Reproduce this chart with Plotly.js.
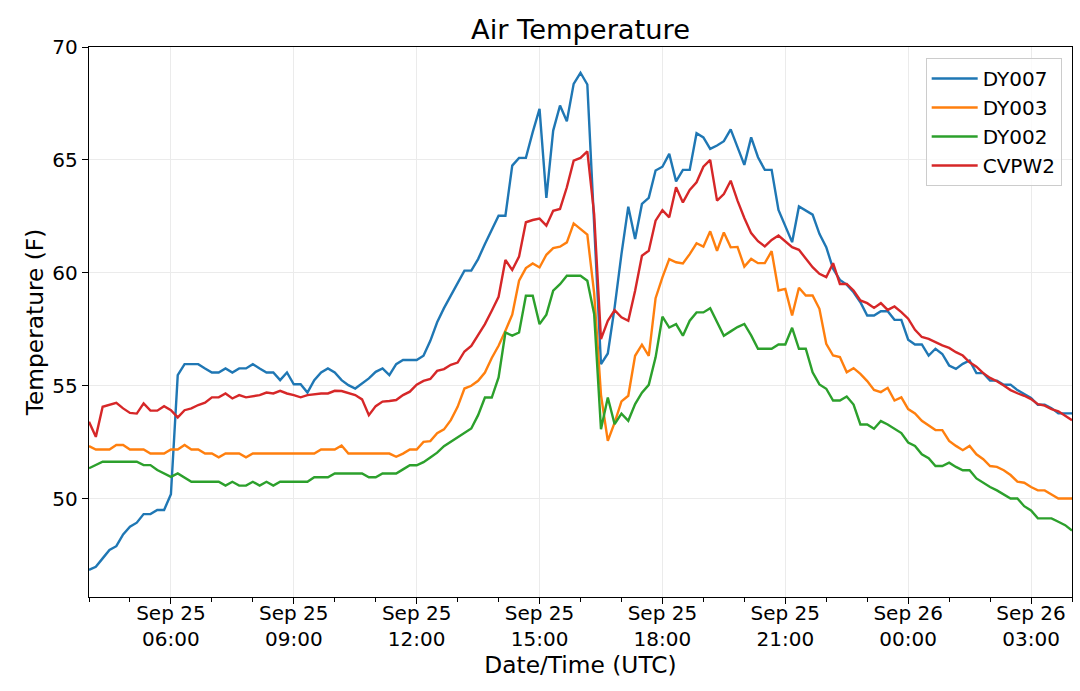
<!DOCTYPE html>
<html>
<head>
<meta charset="utf-8">
<script src="https://cdn.plot.ly/plotly-3.0.1.min.js"></script>
<style>
  html, body { margin: 0; padding: 0; background: #fff; }
  #plot { width: 1080px; height: 691px; }
</style>
</head>
<body>
<div id="plot"></div>
<script>
// readings every 10 minutes, 04:00 Sep 25 -> 04:00 Sep 26 (UTC)
var start = "2019-09-25T04:00:00Z";
var stepMinutes = 10;

var stations = ["DY007", "DY003", "DY002", "CVPW2"];
var colors = ["#1f77b4", "#ff7f0e", "#2ca02c", "#d62728"];

// one row per hour
var dy007 = [
  46.85, 46.99, 47.36, 47.73, 47.90, 48.42,
  48.76, 48.94, 49.32, 49.32, 49.50, 49.50,
  50.20, 55.47, 55.96, 55.96, 55.96, 55.77,
  55.59, 55.59, 55.77, 55.59, 55.77, 55.77,
  55.96, 55.77, 55.59, 55.59, 55.25, 55.59,
  55.07, 55.07, 54.70, 55.25, 55.59, 55.77,
  55.59, 55.25, 55.03, 54.88, 55.10, 55.33,
  55.62, 55.77, 55.47, 55.96, 56.14, 56.14,
  56.14, 56.33, 56.99, 57.81, 58.44, 58.99,
  59.58, 60.10, 60.10, 60.61, 61.28, 61.94,
  62.53, 62.53, 64.75, 65.09, 65.09, 66.23,
  67.26, 63.32, 66.30, 67.41, 66.71, 68.37,
  68.86, 68.34, 62.00, 55.96, 56.43, 58.47,
  60.83, 62.93, 61.50, 63.05, 63.32, 64.53,
  64.70, 65.27, 64.05, 64.56, 64.56, 66.18,
  66.00, 65.49, 65.64, 65.83, 66.35, 65.60,
  64.78, 66.00, 65.12, 64.56, 64.56, 62.79,
  62.05, 61.36, 62.94, 62.76, 62.58, 61.73,
  61.14, 60.18, 59.69, 59.48, 59.14, 58.70,
  58.11, 58.11, 58.30, 58.30, 57.92, 57.92,
  57.04, 56.83, 56.83, 56.34, 56.64, 56.41,
  55.90, 55.75, 55.97, 56.12, 55.56, 55.56,
  55.23, 55.23, 55.05, 55.05, 54.81, 54.64,
  54.46, 54.16, 54.16, 54.01, 53.78, 53.78,
  53.78
];

var dy003 = [
  52.33, 52.18, 52.18, 52.18, 52.38, 52.38,
  52.18, 52.18, 52.18, 52.00, 52.00, 52.00,
  52.18, 52.18, 52.38, 52.18, 52.18, 52.00,
  52.00, 51.83, 52.00, 52.00, 52.00, 51.83,
  52.00, 52.00, 52.00, 52.00, 52.00, 52.00,
  52.00, 52.00, 52.00, 52.00, 52.18, 52.18,
  52.18, 52.36, 52.00, 52.00, 52.00, 52.00,
  52.00, 52.00, 52.00, 51.86, 52.00, 52.18,
  52.18, 52.52, 52.55, 52.90, 53.07, 53.48,
  54.07, 54.88, 55.00, 55.22, 55.59, 56.23,
  56.77, 57.44, 58.15, 59.65, 60.21, 60.42,
  60.24, 60.80, 61.10, 61.16, 61.35, 62.19,
  61.94, 61.69, 59.10, 54.60, 52.56, 53.37,
  54.31, 54.56, 56.33, 56.82, 56.33, 58.88,
  59.80, 60.61, 60.47, 60.42, 60.83, 61.31,
  61.16, 61.84, 60.98, 61.79, 61.13, 61.15,
  60.28, 60.62, 60.43, 60.43, 60.96, 59.22,
  59.29, 58.11, 59.34, 59.00, 59.00, 58.41,
  56.86, 56.34, 56.27, 55.60, 55.78, 55.53,
  55.21, 54.82, 54.72, 54.91, 54.35, 54.49,
  53.97, 53.78, 53.45, 53.23, 53.04, 53.04,
  52.56, 52.34, 52.15, 52.34, 51.97, 51.75,
  51.45, 51.41, 51.26, 51.05, 50.76, 50.71,
  50.52, 50.37, 50.37, 50.19, 50.01, 50.01,
  50.01
];

var dy002 = [
  51.35, 51.49, 51.64, 51.64, 51.64, 51.64,
  51.64, 51.64, 51.49, 51.49, 51.27, 51.12,
  50.97, 51.12, 50.95, 50.75, 50.75, 50.75,
  50.75, 50.75, 50.58, 50.75, 50.58, 50.58,
  50.75, 50.58, 50.75, 50.58, 50.75, 50.75,
  50.75, 50.75, 50.75, 50.95, 50.95, 50.95,
  51.12, 51.12, 51.12, 51.12, 51.12, 50.95,
  50.95, 51.12, 51.12, 51.12, 51.30, 51.48,
  51.48, 51.62, 51.83, 52.04, 52.33, 52.52,
  52.72, 52.90, 53.11, 53.70, 54.48, 54.48,
  55.37, 57.36, 57.22, 57.36, 58.99, 58.99,
  57.73, 58.15, 59.21, 59.50, 59.87, 59.87,
  59.87, 59.65, 58.18, 53.08, 54.48, 53.30,
  53.77, 53.45, 54.19, 54.70, 55.04, 56.26,
  58.06, 57.58, 57.73, 57.22, 57.88, 58.25,
  58.25, 58.44, 57.81, 57.22, 57.41, 57.60,
  57.74, 57.23, 56.64, 56.64, 56.64, 56.83,
  56.83, 57.57, 56.64, 56.64, 55.60, 55.06,
  54.87, 54.35, 54.35, 54.53, 54.17, 53.29,
  53.29, 53.10, 53.44, 53.29, 53.10, 52.91,
  52.49, 52.34, 51.97, 51.79, 51.45, 51.45,
  51.60, 51.41, 51.26, 51.26, 50.90, 50.71,
  50.52, 50.37, 50.19, 50.01, 50.01, 49.67,
  49.48, 49.13, 49.13, 49.13, 48.98, 48.83,
  48.59
];

var cvpw2 = [
  53.41, 52.74, 54.07, 54.15, 54.25, 54.00,
  53.80, 53.77, 54.22, 53.90, 53.90, 54.10,
  53.92, 53.60, 53.92, 54.00, 54.15, 54.25,
  54.49, 54.49, 54.66, 54.44, 54.59, 54.49,
  54.55, 54.59, 54.70, 54.66, 54.78, 54.66,
  54.59, 54.49, 54.59, 54.63, 54.66, 54.66,
  54.78, 54.77, 54.69, 54.59, 54.40, 53.70,
  54.10, 54.30, 54.33, 54.37, 54.59, 54.74,
  55.05, 55.22, 55.30, 55.66, 55.74, 55.93,
  56.03, 56.52, 56.77, 57.22, 57.73, 58.32,
  58.94, 60.57, 60.13, 60.72, 62.24, 62.34,
  62.40, 62.09, 62.75, 62.83, 63.79, 64.97,
  65.09, 65.38, 62.60, 57.07, 57.88, 58.35,
  58.03, 57.88, 59.21, 60.76, 60.98, 62.31,
  62.78, 62.46, 63.79, 63.12, 63.67, 64.01,
  64.70, 65.00, 63.20, 63.49, 64.08, 63.20,
  62.43, 61.76, 61.40, 61.17, 61.46, 61.65,
  61.40, 61.14, 61.02, 60.66, 60.25, 59.96,
  59.81, 60.43, 59.51, 59.51, 59.22, 58.78,
  58.66, 58.45, 58.66, 58.36, 58.51, 58.26,
  57.97, 57.48, 57.16, 57.08, 56.93, 56.79,
  56.68, 56.49, 56.34, 56.04, 55.85, 55.56,
  55.35, 55.20, 55.01, 54.81, 54.67, 54.56,
  54.41, 54.19, 54.12, 53.97, 53.87, 53.67,
  53.48
];

var yTicks = [50, 55, 60, 65, 70];

var series = [dy007, dy003, dy002, cvpw2];

// timestamps for the sample grid
var t0 = new Date(start).getTime();
var times = dy007.map(function (v, i) {
  return new Date(t0 + i * stepMinutes * 60000).toISOString().slice(0, 16).replace("T", " ");
});

var traces = series.map(function (vals, k) {
  return {
    x: times,
    y: vals,
    type: "scatter",
    mode: "lines",
    name: stations[k],
    line: { color: colors[k], width: 2.4 }
  };
});

var font = "DejaVu Sans, Verdana, sans-serif";

var layout = {
  width: 1080,
  height: 691,
  margin: { l: 89, r: 8, t: 47, b: 94 },
  paper_bgcolor: "#fff",
  plot_bgcolor: "#fff",
  font: { family: font, size: 20, color: "#000" },
  title: {
    text: "Air Temperature",
    font: { family: font, size: 27.3, color: "#000" },
    x: 0.5375, xanchor: "center",
    y: 0.957, yanchor: "middle"
  },
  xaxis: {
    type: "date",
    range: [times[0], times[times.length - 1]],
    tickmode: "linear",
    tick0: "2019-09-25 06:00",
    dtick: 3 * 3600000,
    tickformat: "%b %d<br>%H:%M",
    ticks: "outside",
    ticklen: 6,
    tickwidth: 1,
    tickcolor: "#000",
    ticklabelstandoff: -8,
    showgrid: true,
    gridcolor: "#ebebeb",
    gridwidth: 1,
    showline: true,
    mirror: true,
    linecolor: "#000",
    linewidth: 1.2,
    zeroline: false,
    minor: {
      tickmode: "linear",
      tick0: "2019-09-25 04:00",
      dtick: 3600000,
      ticks: "outside",
      ticklen: 3.5,
      tickcolor: "#000",
      showgrid: false
    },
    title: {
      text: "Date/Time (UTC)",
      font: { family: font, size: 23.3 },
      standoff: 6
    }
  },
  yaxis: {
    range: [45.65, 70],
    tickmode: "array",
    tickvals: yTicks,
    ticks: "outside",
    ticklen: 6,
    tickwidth: 1,
    tickcolor: "#000",
    showgrid: true,
    gridcolor: "#ebebeb",
    gridwidth: 1,
    showline: true,
    mirror: true,
    linecolor: "#000",
    linewidth: 1.2,
    zeroline: false,
    title: {
      text: "Temperature (F)",
      font: { family: font, size: 23.3 },
      standoff: 2
    }
  },
  showlegend: true,
  legend: {
    x: 0.9895, xanchor: "right",
    y: 0.98, yanchor: "top",
    bgcolor: "rgba(255,255,255,0.8)",
    bordercolor: "#cccccc",
    borderwidth: 1,
    itemwidth: 46,
    entrywidth: 96,
    font: { family: font, size: 20, color: "#000" }
  }
};

Plotly.newPlot("plot", traces, layout, { staticPlot: true });
</script>
</body>
</html>
